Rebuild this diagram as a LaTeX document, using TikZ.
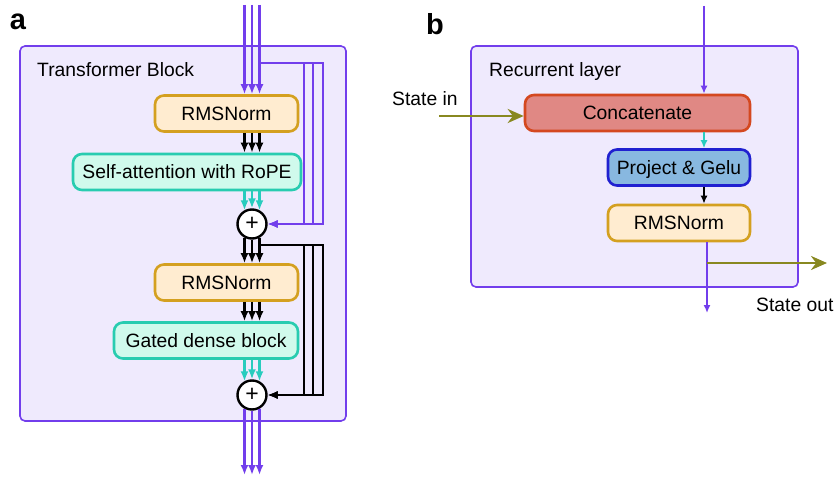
\documentclass[tikz,border=0pt]{standalone}
\usepackage{fontspec}
\setmainfont{Liberation Sans}
\usetikzlibrary{arrows.meta}

\begin{document}
\begin{tikzpicture}[x=1pt,y=1pt,
  every node/.style={font=\fontsize{19.3}{23}\selectfont},
  layerbox/.style={draw=lineP,fill=bgP,line width=1.6pt,rounded corners=5pt},
  blk/.style={rounded corners=9pt,line width=2.6pt,minimum height=36pt,inner sep=0pt,
    text height=14pt,text depth=0pt},
  normbox/.style={blk,draw=normD,fill=normF,minimum width=143pt},
  densebox/.style={blk,draw=denseD,fill=denseF},
  catbox/.style={blk,draw=catD,fill=catF,minimum width=225pt},
  projbox/.style={blk,draw=projD,fill=projF,minimum width=142pt},
  addnode/.style={circle,draw,line width=2.4pt,fill=white,minimum size=29pt,inner sep=0pt,
    font=\fontsize{23}{23}\selectfont},
  parr/.style={draw=lineP,line width=2.6pt,-{Latex[length=10pt,width=8pt]}},
  karr/.style={draw=black,line width=2.6pt,-{Latex[length=10pt,width=8pt]}},
  tarr/.style={draw=lineT,line width=2.6pt,-{Latex[length=10pt,width=8pt]}},
  thinarr/.style={line width=1.9pt,-{Latex[length=8pt,width=7pt]}},
  oarr/.style={draw=lineO,line width=2.8pt,-{Stealth[length=16pt,width=14pt]}},
  panel/.style={font=\fontsize{29}{30}\bfseries\selectfont,inner sep=0pt}]
\definecolor{lineP}{RGB}{114,62,236}
\definecolor{bgP}{RGB}{239,234,253}
\definecolor{normD}{RGB}{212,160,32}
\definecolor{normF}{RGB}{255,236,208}
\definecolor{denseD}{RGB}{40,204,176}
\definecolor{denseF}{RGB}{208,250,236}
\definecolor{lineT}{RGB}{40,204,190}
\definecolor{catD}{RGB}{212,72,32}
\definecolor{catF}{RGB}{224,136,132}
\definecolor{projD}{RGB}{32,32,208}
\definecolor{projF}{RGB}{136,184,224}
\definecolor{lineO}{RGB}{136,136,32}
\path[use as bounding box,fill=white] (0,0) rectangle (835,477);

% panel a: transformer block
\node[panel] (lblA) at (18,455) {a};
\draw[layerbox] (20,56) rectangle (346,431);
\node[anchor=base west,inner sep=0pt] (tbTitle) at (37,400) {Transformer Block};

\node[normbox] (rmsA) at (226.5,363.5) {RMSNorm};
\node[densebox,minimum width=228pt] (att) at (187,305) {Self-attention with RoPE};
\node[addnode] (addA) at (252,253) {+};
\node[normbox] (rmsB) at (226.5,194.5) {RMSNorm};
\node[densebox,minimum width=184pt] (gdb) at (206,136.5) {Gated dense block};
\node[addnode] (addB) at (252,82) {+};

\coordinate (colA) at (244.5,472);
\coordinate (colB) at (252,472);
\coordinate (colC) at (259.5,472);
\coordinate (bot) at (252,2);

% residual paths
\foreach \n/\x in {1/304,2/313,3/323} {
  \coordinate (resA\n) at (\x,414);
  \draw[parr] (colC |- resA\n) -- (resA\n) -- (resA\n |- addA) -- (addA);
  \coordinate (resB\n) at (\x,232);
  \draw[karr] (colC |- resB\n) -- (resB\n) -- (resB\n |- addB) -- (addB);
}

\foreach \c/\s in {colA/2,colB/0,colC/2} {
  \draw[parr] (\c) -- (\c |- rmsA.north);
  \draw[karr] (rmsA.south -| \c) -- (att.north -| \c);
  \draw[tarr] (att.south -| \c) -- ([yshift=-\s pt]addA.north -| \c);
  \draw[karr] ([yshift=\s pt]addA.south -| \c) -- (rmsB.north -| \c);
  \draw[karr] (rmsB.south -| \c) -- (gdb.north -| \c);
  \draw[tarr] (gdb.south -| \c) -- ([yshift=-\s pt]addB.north -| \c);
  \draw[parr] ([yshift=\s pt]addB.south -| \c) -- (\c |- bot);
}

% panel b: recurrent layer
\node[panel] (lblB) at (435,453) {b};
\draw[layerbox] (471,190) rectangle (798,431);
\node[anchor=base west,inner sep=0pt] (rlTitle) at (489,400) {Recurrent layer};

\node[catbox] (cat) at (637.5,364) {Concatenate};
\node[projbox] (proj) at (679,309.5) {Project \& Gelu};
\node[normbox,minimum width=142pt] (rmsC) at (679,254) {RMSNorm};

\coordinate (recIn) at (704,471);
\coordinate (recOut) at (707,164);
\coordinate (stIn) at (439,361);
\coordinate (stOut) at (827,214);

\draw[thinarr,draw=lineP] (recIn) -- (recIn |- cat.north);
\draw[thinarr,draw=lineT] (cat.south -| recIn) -- (proj.north -| recIn);
\draw[thinarr,draw=black] (proj.south -| recIn) -- (rmsC.north -| recIn);
\draw[thinarr,draw=lineP] (rmsC.south -| recOut) -- (recOut);
\draw[oarr] (recOut |- stOut) -- (stOut);
\draw[oarr] (stIn) -- (stIn -| cat.west);

\node[anchor=base west,inner sep=0pt] (stInLbl) at (392,371) {State in};
\node[anchor=base west,inner sep=0pt] (stOutLbl) at (756,165) {State out};
\end{tikzpicture}
\end{document}
